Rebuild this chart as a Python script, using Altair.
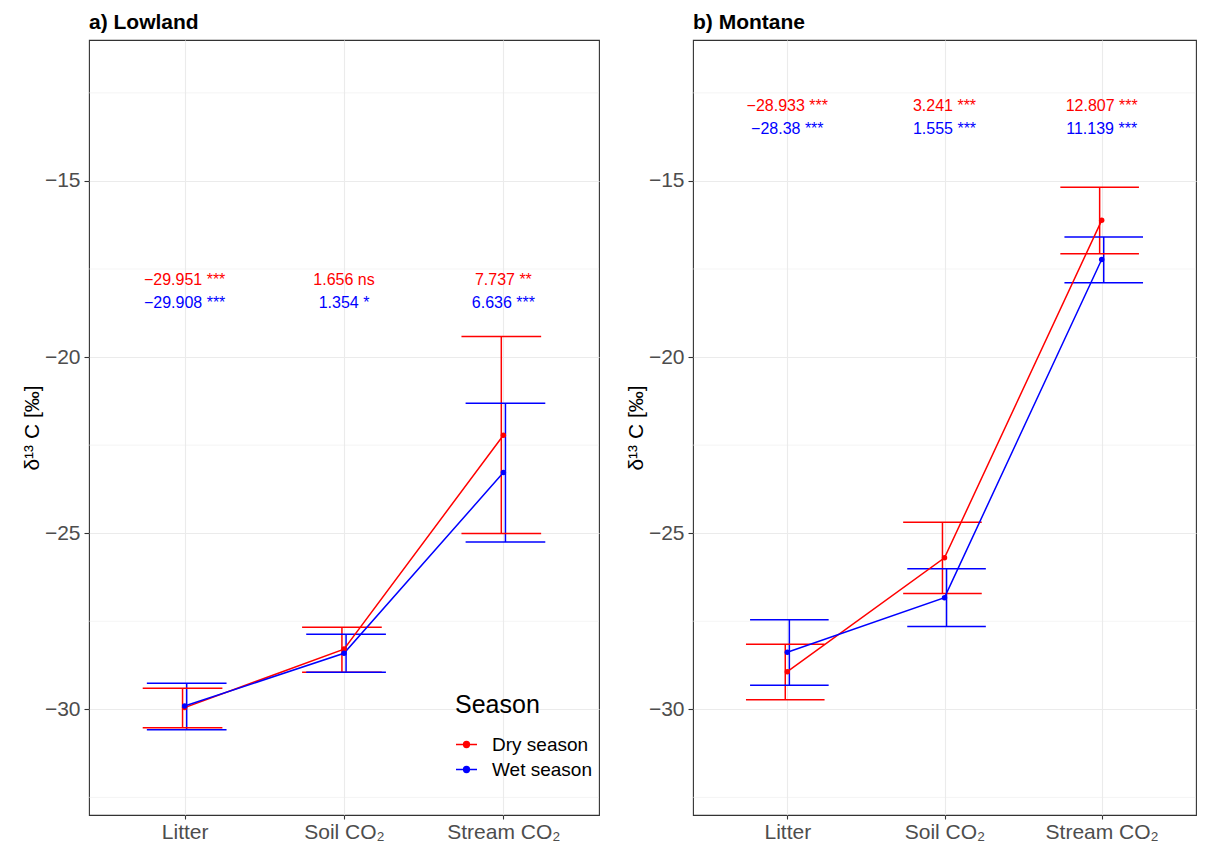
import altair as alt
import pandas as pd

# ---------------- data ----------------
categories = ["Litter", "Soil CO₂", "Stream CO₂"]
seasons = ["Dry season", "Wet season"]
season_colors = ["#FF0000", "#0000FF"]

low_dry_mean = [-29.951, -28.29, -22.22]
low_dry_lo = [-30.52, -28.95, -25.01]
low_dry_hi = [-29.40, -27.67, -19.42]
low_wet_mean = [-29.908, -28.41, -23.28]
low_wet_lo = [-30.58, -28.95, -25.25]
low_wet_hi = [-29.26, -27.87, -21.31]

mon_dry_mean = [-28.933, -25.70, -16.12]
mon_dry_lo = [-29.73, -26.71, -17.07]
mon_dry_hi = [-28.15, -24.69, -15.18]
mon_wet_mean = [-28.38, -26.83, -17.23]
mon_wet_lo = [-29.32, -27.65, -17.89]
mon_wet_hi = [-27.46, -26.01, -16.59]

low_dry_labels = ["−29.951 ***", "1.656 ns", "7.737 **"]
low_wet_labels = ["−29.908 ***", "1.354 *", "6.636 ***"]
mon_dry_labels = ["−28.933 ***", "3.241 ***", "12.807 ***"]
mon_wet_labels = ["−28.38 ***", "1.555 ***", "11.139 ***"]
low_label_y = [-17.8, -18.47]
mon_label_y = [-12.86, -13.53]

major_breaks = [-30, -25, -20, -15]
minor_breaks = [-32.5, -27.5, -22.5, -17.5, -12.5]

dodge = [-0.013, 0.013]
cap_half = 0.25

FONT = "Liberation Sans, Arial, Helvetica, sans-serif"


def make_df(dry, wet, label_y):
    rows = []
    for si, (mean, lo, hi, labels) in enumerate([dry, wet]):
        for ci, cat in enumerate(categories):
            pos = ci + 1
            bx = pos + dodge[si]
            rows.append({
                "cat": cat, "pos": pos, "season": seasons[si],
                "mean": mean[ci], "lo": lo[ci], "hi": hi[ci],
                "bx": bx, "cl": bx - cap_half, "cr": bx + cap_half,
                "label": labels[ci], "ly": label_y[si],
            })
    return pd.DataFrame(rows)


low_df = make_df((low_dry_mean, low_dry_lo, low_dry_hi, low_dry_labels),
                 (low_wet_mean, low_wet_lo, low_wet_hi, low_wet_labels), low_label_y)
mon_df = make_df((mon_dry_mean, mon_dry_lo, mon_dry_hi, mon_dry_labels),
                 (mon_wet_mean, mon_wet_lo, mon_wet_hi, mon_wet_labels), mon_label_y)
minor_df = pd.DataFrame({"v": minor_breaks})

label_expr = ("datum.value == 1 ? '%s' : datum.value == 2 ? '%s' : '%s'"
              % (categories[0], categories[1], categories[2]))

xscale = alt.Scale(domain=[0.4, 3.6], nice=False, zero=False)
yscale = alt.Scale(domain=[-33, -11], nice=False, zero=False)
cscale = alt.Scale(domain=seasons, range=season_colors)

xaxis = alt.Axis(values=[1, 2, 3], labelExpr=label_expr, title=None, grid=True,
                 gridColor="#EBEBEB", gridWidth=1.1, domain=False,
                 tickColor="#333333", tickSize=4, tickWidth=1.1,
                 labelColor="#4D4D4D", labelFontSize=21, labelFont=FONT,
                 labelPadding=2, labelFlush=False)
yaxis = alt.Axis(values=major_breaks, title="δ¹³ C [‰]", grid=True,
                 gridColor="#EBEBEB", gridWidth=1.1, domain=False,
                 tickColor="#333333", tickSize=5, tickWidth=1.1,
                 labelColor="#4D4D4D", labelFontSize=21, labelFont=FONT,
                 labelPadding=4, titleFontSize=21, titleFont=FONT,
                 titleFontWeight="normal", titleColor="black", titlePadding=2,
                 labelFlush=False)

LEGEND_SYMBOL = ("M-1,0H1"
                 "M0.27,0A0.27,0.27 0 1,1 -0.27,0A0.27,0.27 0 1,1 0.27,0Z"
                 "M0.15,0A0.15,0.15 0 1,1 -0.15,0A0.15,0.15 0 1,1 0.15,0Z"
                 "M0.05,0A0.05,0.05 0 1,1 -0.05,0A0.05,0.05 0 1,1 0.05,0Z")

PLOT_H = 775


def panel(df, title, width, show_legend):
    if show_legend:
        legend = alt.Legend(title="Season", orient="none", legendX=366, legendY=PLOT_H - 122,
                            titleFontSize=25, titleFont=FONT, titleFontWeight="normal",
                            titleColor="black", titlePadding=15,
                            labelFontSize=19, labelFont=FONT, labelColor="black",
                            labelOffset=14, symbolType=LEGEND_SYMBOL, symbolSize=441,
                            symbolStrokeWidth=1.6, rowPadding=3, padding=0)
    else:
        legend = None
    color = alt.Color("season:N", scale=cscale, legend=legend)

    base = alt.Chart(df)
    minor = alt.Chart(minor_df).mark_rule(color="#EBEBEB", strokeWidth=0.55).encode(
        y=alt.Y("v:Q", scale=yscale, axis=yaxis))
    bars = base.mark_rule(strokeWidth=1.5).encode(
        x=alt.X("bx:Q", scale=xscale, axis=xaxis),
        y=alt.Y("lo:Q", scale=yscale, axis=yaxis), y2="hi:Q", color=color)
    caps_lo = base.mark_rule(strokeWidth=1.5).encode(
        x=alt.X("cl:Q", scale=xscale, axis=xaxis), x2="cr:Q",
        y=alt.Y("lo:Q", scale=yscale, axis=yaxis), color=color)
    caps_hi = base.mark_rule(strokeWidth=1.5).encode(
        x=alt.X("cl:Q", scale=xscale, axis=xaxis), x2="cr:Q",
        y=alt.Y("hi:Q", scale=yscale, axis=yaxis), color=color)
    line = base.mark_line(strokeWidth=1.5).encode(
        x=alt.X("pos:Q", scale=xscale, axis=xaxis),
        y=alt.Y("mean:Q", scale=yscale, axis=yaxis), color=color, order="pos:Q")
    pts = base.mark_point(filled=True, size=30, opacity=1).encode(
        x=alt.X("pos:Q", scale=xscale, axis=xaxis),
        y=alt.Y("mean:Q", scale=yscale, axis=yaxis), color=color)
    text = base.mark_text(fontSize=16, font=FONT, baseline="middle", align="center").encode(
        x=alt.X("pos:Q", scale=xscale, axis=xaxis),
        y=alt.Y("ly:Q", scale=yscale, axis=yaxis), text="label:N", color=color)
    return alt.layer(minor, bars, caps_lo, caps_hi, line, pts, text).properties(
        width=width, height=PLOT_H,
        title=alt.TitleParams(title, anchor="start", frame="group", fontSize=21,
                              fontWeight="bold", font=FONT, color="black", offset=7))


left = panel(low_df, "a) Lowland", 510, True)
right = panel(mon_df, "b) Montane", 503, False)

chart = alt.hconcat(left, right, spacing=24).resolve_legend(color="independent").properties(
    padding={"left": 12, "top": 3, "right": 0, "bottom": 0},
    background="white",
).configure_view(stroke="#333333", strokeWidth=1.1, fill="white")

chart.save("out.html", embed_options={"renderer": "svg", "actions": False})
